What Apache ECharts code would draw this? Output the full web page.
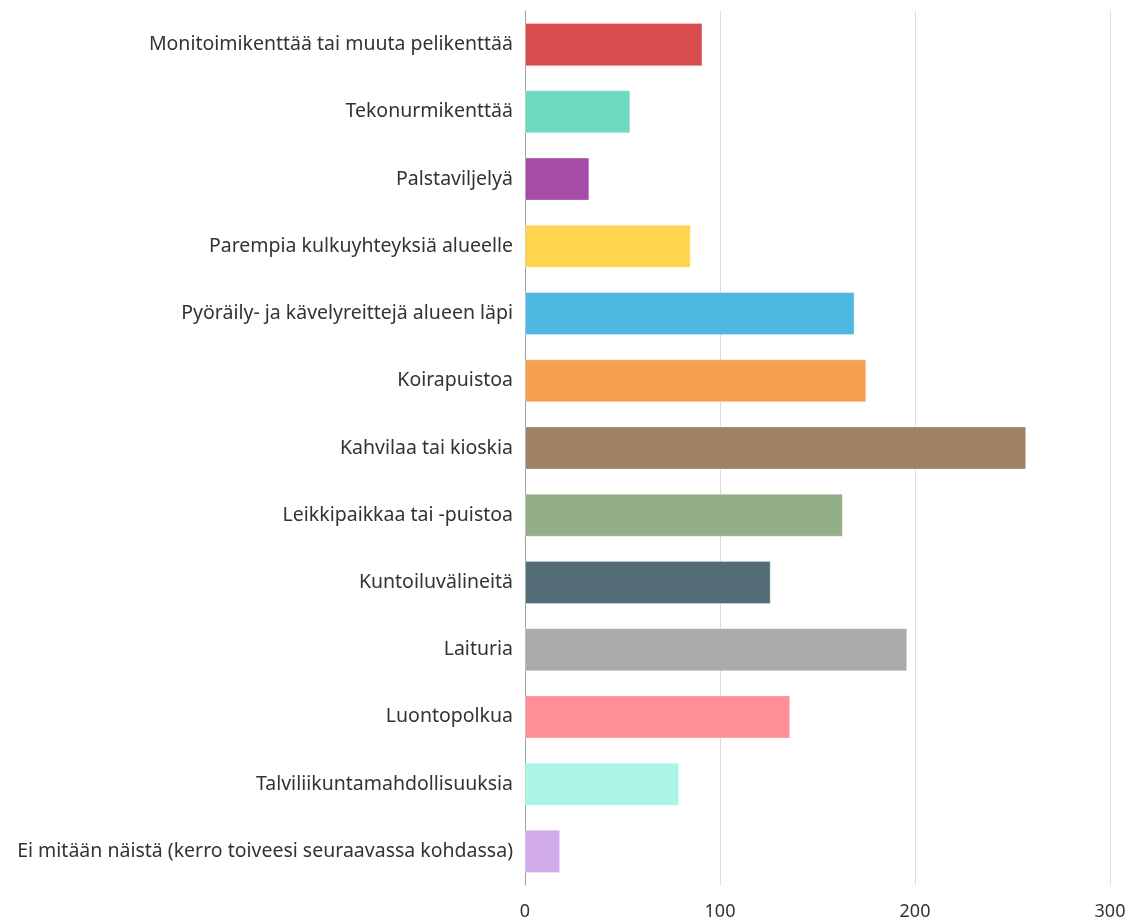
<!DOCTYPE html>
<html>
<head>
<meta charset="utf-8">
<script src="https://cdn.jsdelivr.net/npm/echarts@6/dist/echarts.min.js"></script>
<style>
html,body{margin:0;padding:0;background:#fff;}
#chart{width:1132px;height:922px;}
</style>
</head>
<body>
<div id="chart"></div>
<script>
const categories = [
  "Monitoimikenttää tai muuta pelikenttää",
  "Tekonurmikenttää",
  "Palstaviljelyä",
  "Parempia kulkuyhteyksiä alueelle",
  "Pyöräily- ja kävelyreittejä alueen läpi",
  "Koirapuistoa",
  "Kahvilaa tai kioskia",
  "Leikkipaikkaa tai -puistoa",
  "Kuntoiluvälineitä",
  "Laituria",
  "Luontopolkua",
  "Talviliikuntamahdollisuuksia",
  "Ei mitään näistä (kerro toiveesi seuraavassa kohdassa)"
];
const values = [91, 54, 33, 85, 169, 175, 257, 163, 126, 196, 136, 79, 18];
const colors = ["#d84c4f","#6cd9c0","#a64ca6","#ffd44f","#4db9e0","#f5a04f","#a08165","#93ae88","#546c75","#aaaaaa","#ff8e99","#aaf5e5","#d0aaea"];
const xTicks = [0, 100, 200, 300];

const chart = echarts.init(document.getElementById('chart'));
chart.setOption({
  animation: false,
  grid: {left: 525, right: 22, top: 11, bottom: 37, containLabel: false},
  xAxis: {
    type: 'value', min: xTicks[0], max: xTicks[xTicks.length-1], interval: 100,
    axisLine: {show: false}, axisTick: {show: false},
    splitLine: {show: true, lineStyle: {color: '#dcdcdc', width: 1}},
    axisLabel: {color: '#333', fontSize: 18, fontFamily: 'Noto Sans', margin: 18}
  },
  yAxis: {
    type: 'category', data: categories, inverse: true,
    axisLine: {show: true, lineStyle: {color: '#a0a0a0', width: 1}},
    axisTick: {show: false},
    axisLabel: {color: '#333', fontSize: 19.5, fontFamily: 'Noto Sans', margin: 12}
  },
  series: [{
    type: 'bar', barCategoryGap: '36%',
    data: values.map((v, i) => ({value: v, itemStyle: {color: colors[i], borderColor: 'rgba(255,255,255,0.3)', borderWidth: 1}}))
  }]
});
</script>
</body>
</html>
